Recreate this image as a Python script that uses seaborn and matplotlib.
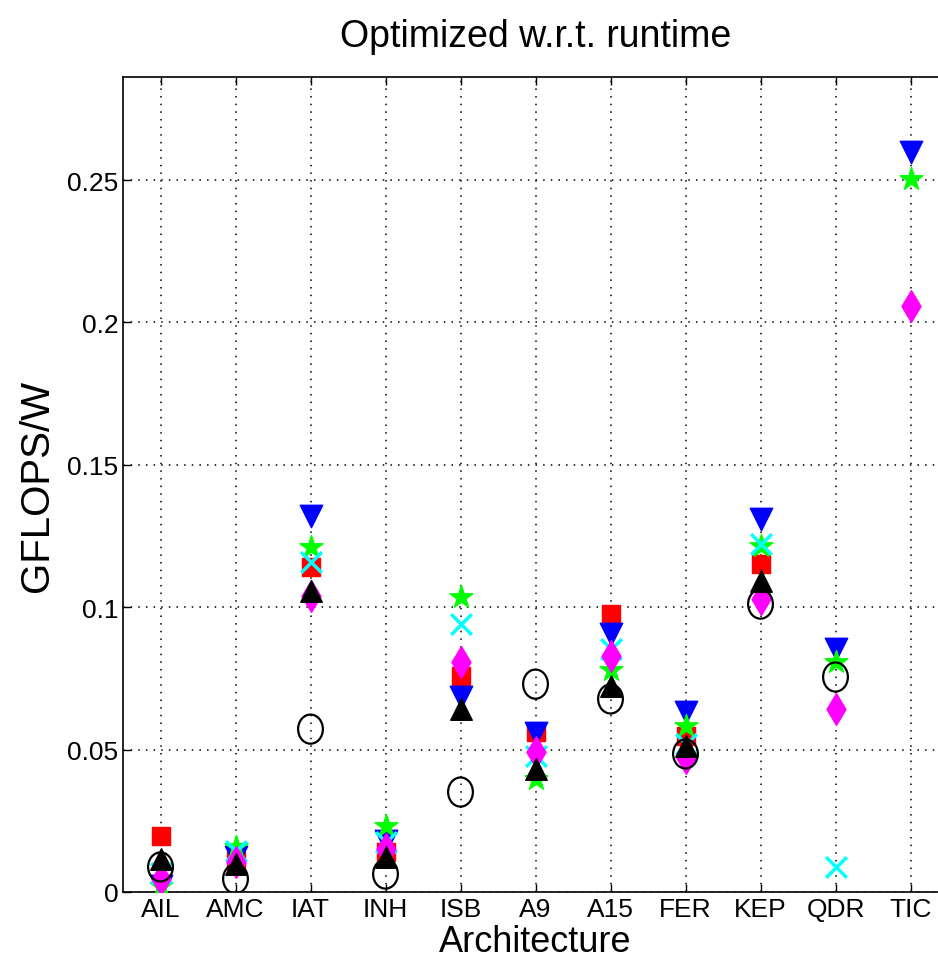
import numpy as np
import pandas as pd
import seaborn as sns
import matplotlib.pyplot as plt
from matplotlib.path import Path

archs = ['AIL', 'AMC', 'IAT', 'INH', 'ISB', 'A9', 'A15', 'FER', 'KEP', 'QDR', 'TIC']
nan = np.nan

red_sq   = [0.0195, 0.0110, 0.1140, 0.0140, 0.0758, 0.0562, 0.0976, 0.0548, 0.1152, nan, nan]
blue_dn  = [0.0020, 0.0123, 0.1320, 0.0179, 0.0685, 0.0560, 0.0906, 0.0632, 0.1310, 0.0853, 0.2598]
green_st = [0.0020, 0.0158, 0.1210, 0.0232, 0.1036, 0.0397, 0.0780, 0.0583, 0.1215, 0.0808, 0.2503]
cyan_x   = [0.0065, 0.0144, 0.1160, 0.0176, 0.0940, 0.0478, 0.0853, 0.0520, 0.1222, 0.0088, nan]
mag_dia  = [0.0045, 0.0105, 0.1040, 0.0150, 0.0807, 0.0490, 0.0830, 0.0470, 0.1029, 0.0643, 0.2058]
blk_up   = [0.0116, 0.0098, 0.1057, 0.0123, 0.0643, 0.0432, 0.0723, 0.0513, 0.1092, nan, nan]
blk_circ = [0.0088, 0.0046, 0.0572, 0.0063, 0.0351, 0.0730, 0.0678, 0.0485, 0.1011, 0.0755, nan]

sns.set_style('white')
plt.rcParams['font.family'] = ['Liberation Sans', 'DejaVu Sans']
plt.rcParams['text.color'] = 'black'
plt.rcParams['axes.labelcolor'] = 'black'

fig = plt.figure(figsize=(9.38, 9.79), dpi=100)
ax = fig.add_axes([123 / 938, 86 / 979, 825 / 938, 815 / 979])

pos = np.arange(1, len(archs) + 1)

# the source picture is stretched vertically, so circles look like ellipses
uc = Path.unit_circle()
ellipse = Path(uc.vertices * np.array([0.85, 1.0]), uc.codes)

# series drawn in MATLAB order, last one on top
series = [
    (red_sq,   's',     'red',     'red',     160, 1.0),
    (blue_dn,  'v',     'blue',    'blue',    260, 1.0),
    (green_st, '*',     '#00ff00', '#00ff00', 300, 1.0),
    (cyan_x,   'x',     'cyan',    'cyan',    220, 2.5),
    (mag_dia,  'd',     'magenta', 'magenta', 260, 1.0),
    (blk_up,   '^',     'black',   'black',   240, 1.0),
    (blk_circ, ellipse, 'none',    'black',   440, 1.6),
]
for vals, m, fc, ec, s, lw in series:
    df = pd.DataFrame({'x': pos, 'y': vals}).dropna()
    if isinstance(m, str) and m == 'x':
        sns.scatterplot(data=df, x='x', y='y', marker=m, color=ec, s=s,
                        linewidth=lw, ax=ax, zorder=3)
    else:
        sns.scatterplot(data=df, x='x', y='y', marker=m, facecolor=fc,
                        edgecolor=ec, s=s, linewidth=lw, ax=ax, zorder=3)

ax.set_xlim(0.5, 11.5)
ax.set_ylim(0, 0.2862)
ax.set_xticks(pos)
ax.set_xticklabels(archs)
ax.set_yticks([0, 0.05, 0.1, 0.15, 0.2, 0.25])
ax.set_yticklabels(['0', '0.05', '0.1', '0.15', '0.2', '0.25'])
ax.grid(True, color='black', linestyle=(0, (1, 4)), linewidth=1.1)
ax.set_axisbelow(True)
ax.tick_params(direction='in', length=6, width=1, labelsize=19, colors='black',
               top=True, right=True, bottom=True, left=True)
for sp in ax.spines.values():
    sp.set_color('black')
    sp.set_linewidth(1.2)

ax.set_xlabel('Architecture', fontsize=26, labelpad=2, color='black')
ax.set_ylabel('GFLOPS/W', fontsize=29, labelpad=8, color='black')
ax.set_title('Optimized w.r.t. runtime', fontsize=27, pad=22, color='black')

fig.savefig('out.png', dpi=100)
